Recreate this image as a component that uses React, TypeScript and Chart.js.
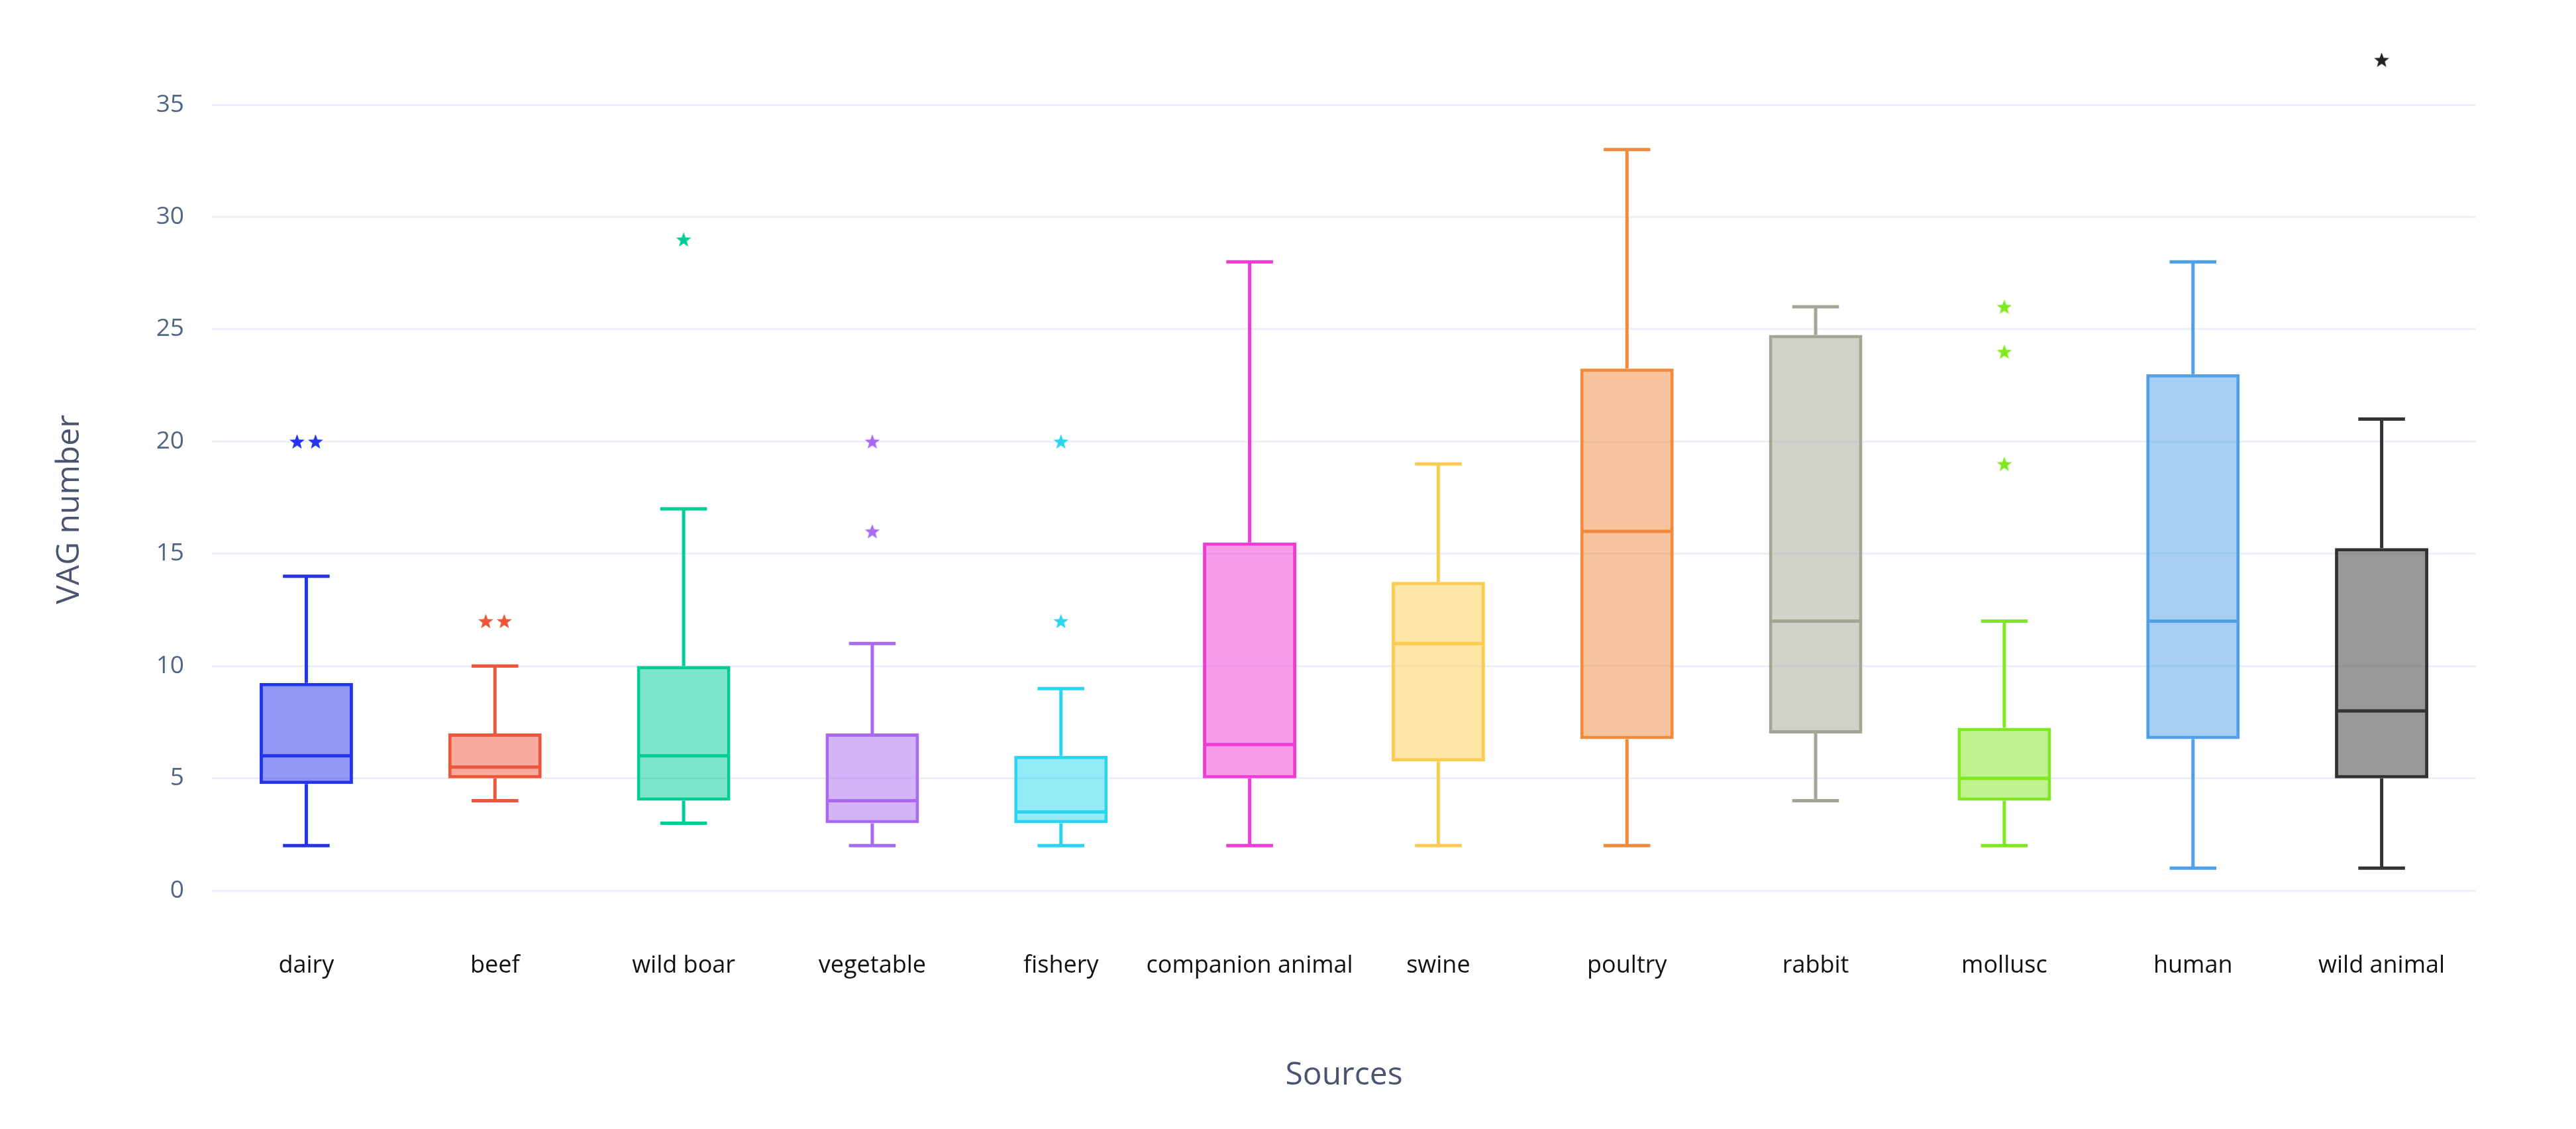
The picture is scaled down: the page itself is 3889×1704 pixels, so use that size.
import React, { useEffect, useRef } from "react";
import { Chart, registerables } from "chart.js";

Chart.register(...registerables);

const categories = [
  "dairy", "beef", "wild boar", "vegetable", "fishery", "companion animal",
  "swine", "poultry", "rabbit", "mollusc", "human", "wild animal",
];
const lowerFence = [2, 4, 3, 2, 2, 2, 2, 2, 4, 2, 1, 1];
const q1 = [4.75, 5, 4, 3, 3, 5, 5.75, 6.75, 7, 4, 6.75, 5];
const median = [6, 5.5, 6, 4, 3.5, 6.5, 11, 16, 12, 5, 12, 8];
const q3 = [9.25, 7, 10, 7, 6, 15.5, 13.75, 23.25, 24.75, 7.25, 23, 15.25];
const upperFence = [14, 10, 17, 11, 9, 28, 19, 33, 26, 12, 28, 21];
const outliers: number[][] = [
  [20, 20], [12, 12], [29], [20, 16], [20, 12], [], [], [], [], [26, 24, 19], [], [37],
];
const yTicks = [0, 5, 10, 15, 20, 25, 30, 35];

const lineColors = [
  "#2433EC", "#EF553B", "#00CC96", "#A86BF0", "#2BD5F0", "#F03BD5",
  "#FECB52", "#F08A3E", "#A5A596", "#80E820", "#4FA0E8", "#333333",
];
const starColors = [
  "#2433EC", "#EF553B", "#00CC96", "#A86BF0", "#2BD5F0", "#F03BD5",
  "#FECB52", "#F08A3E", "#A5A596", "#80E820", "#4FA0E8", "#222222",
];

function hexToRgba(hex: string, a: number) {
  const n = parseInt(hex.slice(1), 16);
  return `rgba(${(n >> 16) & 255},${(n >> 8) & 255},${n & 255},${a})`;
}

function makeStar(color: string, size: number) {
  const c = document.createElement("canvas");
  c.width = size;
  c.height = size;
  const ctx = c.getContext("2d")!;
  const cx = size / 2, cy = size / 2 + 1;
  const R = size / 2 - 0.5, r = R * 0.42;
  ctx.beginPath();
  for (let i = 0; i < 10; i++) {
    const rad = i % 2 === 0 ? R : r;
    const a = -Math.PI / 2 + (i * Math.PI) / 5;
    ctx.lineTo(cx + rad * Math.cos(a), cy + rad * Math.sin(a));
  }
  ctx.closePath();
  ctx.fillStyle = color;
  ctx.fill();
  return c;
}

const FONT = "'Open Sans', sans-serif";

export default function App() {
  const canvasRef = useRef<HTMLCanvasElement | null>(null);

  useEffect(() => {
    if (!canvasRef.current) return;

    // outlier points: duplicates inside a category are spread symmetrically
    const pts: { x: number; y: number }[] = [];
    const ptStyles: HTMLCanvasElement[] = [];
    outliers.forEach((vals, ci) => {
      const counts: Record<number, number> = {};
      vals.forEach((v) => (counts[v] = (counts[v] || 0) + 1));
      const seen: Record<number, number> = {};
      vals.forEach((v) => {
        const n = counts[v];
        const k = seen[v] || 0;
        seen[v] = k + 1;
        const off = n > 1 ? (k - (n - 1) / 2) * 0.098 : 0;
        pts.push({ x: ci + off, y: v });
        ptStyles.push(makeStar(starColors[ci], 25));
      });
    });

    const boxPlugin = {
      id: "boxWhiskers",
      afterDatasetsDraw(chart: any) {
        const ctx = chart.ctx;
        const y = chart.scales.y;
        const meta = chart.getDatasetMeta(0);
        ctx.save();
        ctx.lineWidth = 5;
        meta.data.forEach((bar: any, i: number) => {
          const { x, width } = bar.getProps(["x", "width"], true);
          const half = width / 2;
          const cap = width / 4;
          ctx.strokeStyle = lineColors[i];
          const ym = y.getPixelForValue(median[i]);
          ctx.beginPath();
          ctx.moveTo(x - half + 2, ym);
          ctx.lineTo(x + half - 2, ym);
          ctx.stroke();
          const yq1 = y.getPixelForValue(q1[i]);
          const yq3 = y.getPixelForValue(q3[i]);
          const ylo = y.getPixelForValue(lowerFence[i]);
          const yhi = y.getPixelForValue(upperFence[i]);
          ctx.beginPath();
          ctx.moveTo(x, yq3);
          ctx.lineTo(x, yhi);
          ctx.moveTo(x - cap, yhi);
          ctx.lineTo(x + cap, yhi);
          ctx.moveTo(x, yq1);
          ctx.lineTo(x, ylo);
          ctx.moveTo(x - cap, ylo);
          ctx.lineTo(x + cap, ylo);
          ctx.stroke();
        });
        ctx.restore();
      },
      afterDraw(chart: any) {
        const ctx = chart.ctx;
        const area = chart.chartArea;
        ctx.save();
        ctx.fillStyle = "#4a5470";
        ctx.font = `48px ${FONT}`;
        ctx.textAlign = "center";
        ctx.textBaseline = "middle";
        ctx.fillText("Sources", (area.left + area.right) / 2, 1623);
        ctx.translate(105, 769);
        ctx.rotate(-Math.PI / 2);
        ctx.fillText("VAG number", 0, 0);
        ctx.restore();
      },
    };

    const chart = new Chart(canvasRef.current, {
      type: "bar",
      data: {
        datasets: [
          {
            type: "bar",
            data: categories.map((_, i) => ({ x: i, y: [q1[i], q3[i]] })) as any,
            backgroundColor: lineColors.map((c) => hexToRgba(c, 0.5)),
            borderColor: lineColors,
            borderWidth: 5,
            borderSkipped: false,
            grouped: false,
            categoryPercentage: 1,
            barPercentage: 0.495,
            xAxisID: "x",
            yAxisID: "y",
          } as any,
          {
            type: "scatter",
            data: pts,
            pointStyle: ptStyles as any,
            pointRadius: 12,
            xAxisID: "x",
            yAxisID: "y",
          } as any,
        ],
      },
      options: {
        animation: false,
        responsive: true,
        maintainAspectRatio: false,
        layout: { padding: { top: 17, right: 151, bottom: 0, left: 0 } },
        plugins: {
          legend: { display: false },
          tooltip: { enabled: false },
          title: { display: false },
        },
        scales: {
          x: {
            type: "linear",
            offset: false,
            min: -0.5,
            max: 11.5,
            grid: { display: false, drawTicks: false, offset: false },
            border: { display: false },
            ticks: {
              color: "#111111",
              font: { family: FONT, size: 36 },
              padding: 58,
              maxRotation: 0,
              autoSkip: false,
              callback: (v: any) => categories[Math.round(Number(v))] ?? "",
            },
            afterBuildTicks: (axis: any) => {
              axis.ticks = categories.map((_, i) => ({ value: i }));
            },
            afterFit: (axis: any) => {
              axis.height = 326;
            },
          },
          y: {
            type: "linear",
            min: -1,
            max: 37.77,
            grid: { color: "#EBF0F8", lineWidth: 3, drawTicks: false },
            border: { display: false },
            ticks: {
              color: "#506784",
              font: { family: FONT, size: 37 },
              padding: 42,
            },
            afterBuildTicks: (axis: any) => {
              axis.ticks = yTicks.map((v) => ({ value: v }));
            },
            afterFit: (axis: any) => {
              axis.width = 320;
            },
          },
        },
      } as any,
      plugins: [boxPlugin],
    });

    return () => chart.destroy();
  }, []);

  return (
    <div style={{ position: "fixed", left: 0, top: 0, width: 3889, height: 1704, background: "#fff" }}>
      <canvas ref={canvasRef} />
    </div>
  );
}
